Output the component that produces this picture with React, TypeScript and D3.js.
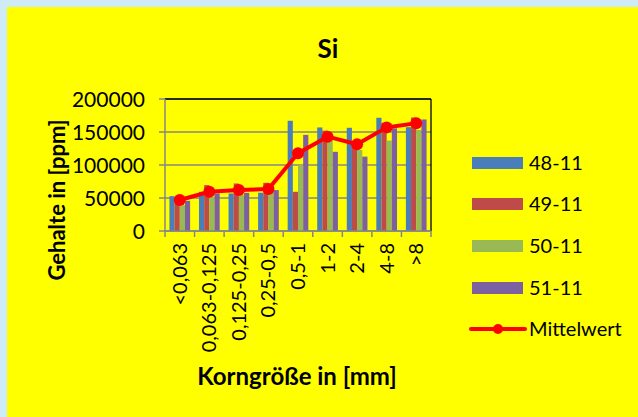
import React from 'react';
import * as d3 from 'd3';

const categories = ['<0,063', '0,063-0,125', '0,125-0,25', '0,25-0,5', '0,5-1', '1-2', '2-4', '4-8', '>8'];
const seriesNames = ['48-11', '49-11', '50-11', '51-11'];
const s48 = [52800, 59400, 56900, 58000, 167000, 156900, 156400, 171600, 157300];
const s49 = [50500, 69500, 72000, 73000, 59400, 152000, 134000, 164000, 172000];
const s50 = [39000, 51800, 54300, 60600, 100000, 138000, 122800, 137000, 153000];
const s51 = [45700, 56900, 57800, 62000, 145600, 120000, 112700, 155600, 169000];
const mittelwert = [47000, 59400, 62000, 63500, 117700, 142900, 131500, 157000, 163100];
const yTicks = [0, 50000, 100000, 150000, 200000];

const colors = ['#4A7EBB', '#BE4B48', '#98B954', '#7D60A0'];
const W = 638;
const H = 417;
const font = 'Lato, "Open Sans", sans-serif';

export default function App() {
  const plot = { left: 165, right: 431, top: 99, bottom: 231 };
  const series = [s48, s49, s50, s51];

  const x = d3.scaleBand<string>()
    .domain(categories)
    .range([plot.left, plot.right])
    .paddingInner(0.3)
    .paddingOuter(0.15);
  const step = (plot.right - plot.left) / categories.length;
  const xInner = d3.scaleBand<string>()
    .domain(seriesNames)
    .range([0, x.bandwidth()]);
  const y = d3.scaleLinear().domain([0, 200000]).range([plot.bottom, plot.top]);

  const line = d3.line<number>()
    .x((d, i) => x(categories[i])! + x.bandwidth() / 2)
    .y(d => y(d));

  const legendY = [163, 204, 246, 288];

  return (
    <svg width={W} height={H} style={{ position: 'fixed', left: 0, top: 0 }} fontFamily={font}>
      <rect x={0} y={0} width={W} height={H} fill="#CFEBF7" />
      <rect x={7} y={7} width={W - 7} height={H - 7} fill="#FFFF00" />

      <text x={328} y={58} textAnchor="middle" fontSize={26} fontWeight="bold">Si</text>

      {/* grid */}
      {yTicks.map(t => (
        <g key={t}>
          <line x1={plot.left - 6} x2={plot.right} y1={y(t)} y2={y(t)} stroke="#868686" strokeWidth={1.5} />
          <text x={145} y={y(t)} dy="0.36em" textAnchor="end" fontSize={21}>{t}</text>
        </g>
      ))}
      <line x1={plot.left} x2={plot.right} y1={plot.top} y2={plot.top} stroke="#000" strokeWidth={1.3} />
      <line x1={plot.right} x2={plot.right} y1={plot.top} y2={plot.bottom} stroke="#000" strokeWidth={1.3} />

      {/* bars */}
      {series.map((s, si) => (
        <g key={si} fill={colors[si]}>
          {s.map((v, i) => (
            <rect key={i}
              x={x(categories[i])! + xInner(seriesNames[si])!}
              y={y(v)}
              width={xInner.bandwidth()}
              height={plot.bottom - y(v)} />
          ))}
        </g>
      ))}

      {/* axes */}
      <line x1={plot.left} x2={plot.left} y1={plot.top} y2={plot.bottom} stroke="#868686" strokeWidth={1.5} />
      <line x1={plot.left} x2={plot.right} y1={plot.bottom} y2={plot.bottom} stroke="#868686" strokeWidth={1.5} />
      {d3.range(categories.length + 1).map(i => (
        <line key={i} x1={plot.left + i * step} x2={plot.left + i * step} y1={plot.bottom} y2={plot.bottom + 6}
          stroke="#868686" strokeWidth={1.5} />
      ))}

      {/* mean line */}
      <path d={line(mittelwert)!} fill="none" stroke="#FF0000" strokeWidth={4} strokeLinejoin="round" />
      {mittelwert.map((v, i) => (
        <circle key={i} cx={x(categories[i])! + x.bandwidth() / 2} cy={y(v)} r={6} fill="#FF0000" />
      ))}

      {/* x labels */}
      {categories.map(c => {
        const cx = x(c)! + x.bandwidth() / 2;
        return (
          <text key={c} transform={`translate(${cx + 7},${plot.bottom + 12}) rotate(-90)`}
            textAnchor="end" fontSize={20}>{c}</text>
        );
      })}

      <text transform="translate(65,200) rotate(-90)" textAnchor="middle" fontSize={22} fontWeight="bold">
        Gehalte in [ppm]
      </text>
      <text x={297} y={385} textAnchor="middle" fontSize={24} fontWeight="bold">Korngröße in [mm]</text>

      {/* legend */}
      {seriesNames.map((n, i) => (
        <g key={n}>
          <rect x={472} y={legendY[i] - 6} width={51} height={12} fill={colors[i]} />
          <text x={529} y={legendY[i]} dy="0.36em" fontSize={20}>{n}</text>
        </g>
      ))}
      <line x1={471} x2={525} y1={329} y2={329} stroke="#FF0000" strokeWidth={4} strokeLinecap="round" />
      <circle cx={498} cy={329} r={5} fill="#FF0000" />
      <text x={529} y={329} dy="0.36em" fontSize={20}>Mittelwert</text>
    </svg>
  );
}
